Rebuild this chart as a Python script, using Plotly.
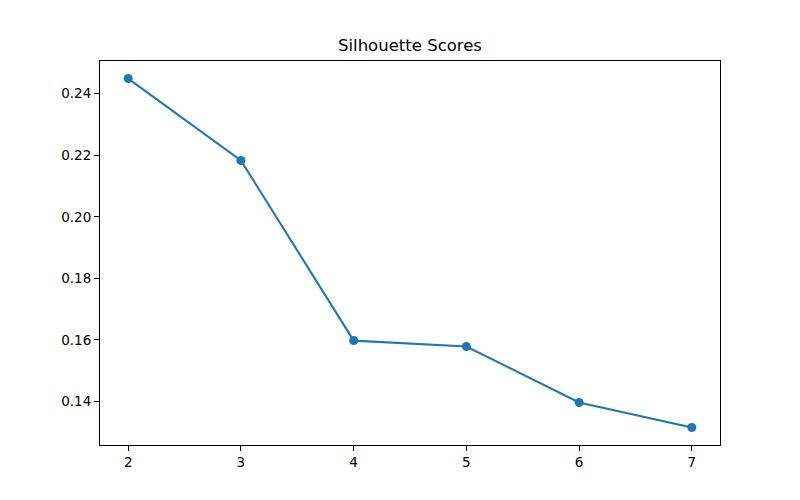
import plotly.graph_objects as go

k_values = [2, 3, 4, 5, 6, 7]
scores = [0.2449, 0.2183, 0.1598, 0.1579, 0.1397, 0.1316]
y_ticks = [0.14, 0.16, 0.18, 0.20, 0.22, 0.24]
y_tick_labels = ["0.14", "0.16", "0.18", "0.20", "0.22", "0.24"]

fig = go.Figure()
fig.add_trace(go.Scatter(
    x=k_values, y=scores, mode="lines+markers",
    line=dict(color="#1f77b4", width=2.1),
    marker=dict(color="#1f77b4", size=9),
    showlegend=False,
))

font = "DejaVu Sans, sans-serif"
fig.update_layout(
    width=792, height=492,
    margin=dict(l=92, r=80, t=53, b=55),
    paper_bgcolor="white", plot_bgcolor="white",
    title=dict(text="Silhouette Scores", x=0.5, xanchor="center",
               xref="paper", yref="container", y=1 - 37 / 492, yanchor="middle",
               font=dict(family=font, size=16.5, color="black")),
    font=dict(family=font, color="black"),
)
fig.update_xaxes(
    range=[1.75, 7.25], tickvals=k_values, ticktext=[str(k) for k in k_values],
    showgrid=False, zeroline=False, showline=True, mirror=True,
    linecolor="black", linewidth=1, ticks="outside", ticklen=5,
    tickcolor="black", tickwidth=1, tickfont=dict(family=font, size=13.5, color="black"),
)
fig.update_yaxes(
    range=[0.1259, 0.2506], tickvals=y_ticks, ticktext=y_tick_labels,
    showgrid=False, zeroline=False, showline=True, mirror=True,
    linecolor="black", linewidth=1, ticks="outside", ticklen=5,
    tickcolor="black", tickwidth=1, tickfont=dict(family=font, size=13.5, color="black"),
)
fig.write_html("out.html")
